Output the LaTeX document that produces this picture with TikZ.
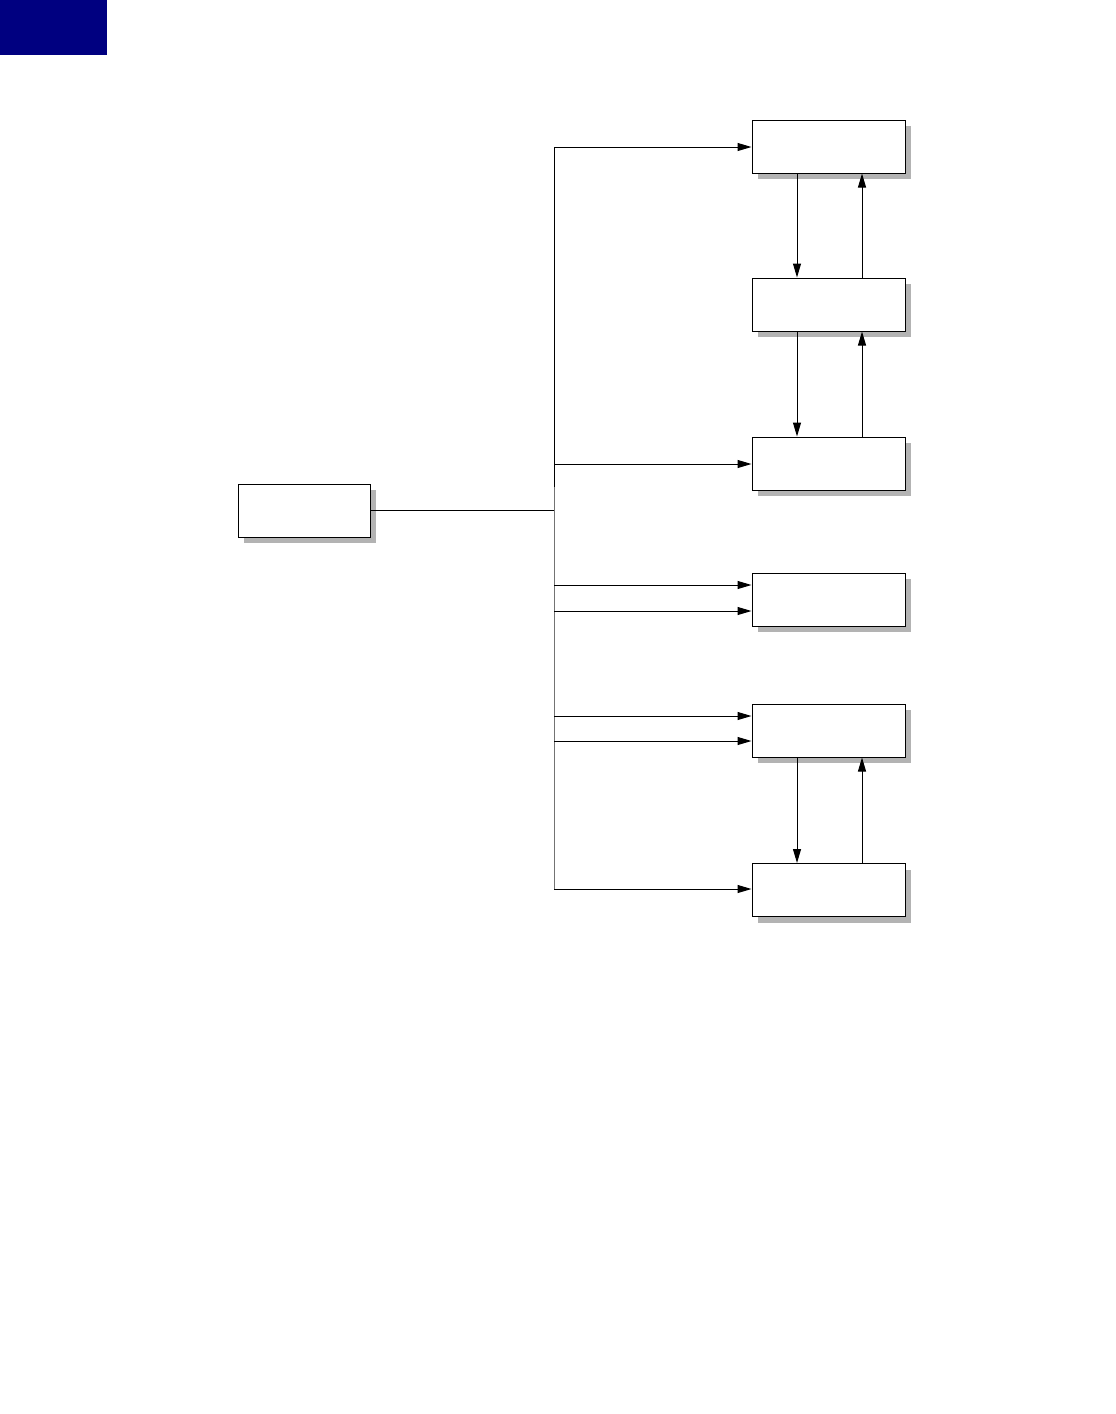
\documentclass[tikz,border=0pt]{standalone}
\usetikzlibrary{arrows.meta,shadows}
\definecolor{navytab}{RGB}{0,0,128}
\definecolor{shadowgray}{RGB}{179,179,179}
\begin{document}
\begin{tikzpicture}[x=0.75pt,y=-0.75pt,
  boxnode/.style={draw=black, line width=0.75pt, fill=white, inner sep=0pt,
    minimum width=114.75pt, minimum height=39.75pt,
    drop shadow={shadow xshift=4.5pt, shadow yshift=-4.5pt, fill=shadowgray, opacity=1}},
  conn/.style={line width=0.75pt, black},
  arr/.style={conn, -{Triangle[length=10.5pt,width=6pt]}}]
\useasboundingbox (0,0) rectangle (1115,1414);
% tab
\node[fill=navytab, inner sep=0pt, minimum width=80.25pt, minimum height=41.25pt] (tab) at (53.5,27.5) {};
% boxes
\node[boxnode] (b1) at (828.5,146.5) {};
\node[boxnode] (b2) at (828.5,304.5) {};
\node[boxnode] (b3) at (828.5,463.5) {};
\node[boxnode] (b4) at (828.5,599.5) {};
\node[boxnode] (b5) at (828.5,730.5) {};
\node[boxnode] (b6) at (828.5,890) {};
\node[boxnode, minimum width=99pt] (L) at (304,510.5) {};
% trunk coordinates
\coordinate (t1) at (554,147);
\coordinate (t3) at (554,464);
\coordinate (tm) at (554,487);
\coordinate (t4a) at (554,585);
\coordinate (t4b) at (554,611);
\coordinate (t5a) at (554,716);
\coordinate (t5b) at (554,741);
\coordinate (t6) at (554,889);
\coordinate (cL) at (797,0);
\coordinate (cR) at (862,0);
% trunk
\draw[conn] (t1) -- (tm);
\draw[line width=0.75pt, black!55] (tm) -- (t6);
\draw[conn] (L.east) -- (L.east -| t1);
% horizontal arrows
\draw[arr] (t1) -- (b1.west |- t1);
\draw[arr] (t3) -- (b3.west |- t3);
\draw[arr] (t4a) -- (b4.west |- t4a);
\draw[arr] (t4b) -- (b4.west |- t4b);
\draw[arr] (t5a) -- (b5.west |- t5a);
\draw[arr] (t5b) -- (b5.west |- t5b);
\draw[arr] (t6) -- (b6.west |- t6);
% vertical arrows
\draw[arr] (b1.south -| cL) -- (b2.north -| cL);
\draw[arr] (b2.north -| cR) -- (b1.south -| cR);
\draw[arr] (b2.south -| cL) -- (b3.north -| cL);
\draw[arr] (b3.north -| cR) -- (b2.south -| cR);
\draw[arr] (b5.south -| cL) -- (b6.north -| cL);
\draw[arr] (b6.north -| cR) -- (b5.south -| cR);
\end{tikzpicture}
\end{document}
